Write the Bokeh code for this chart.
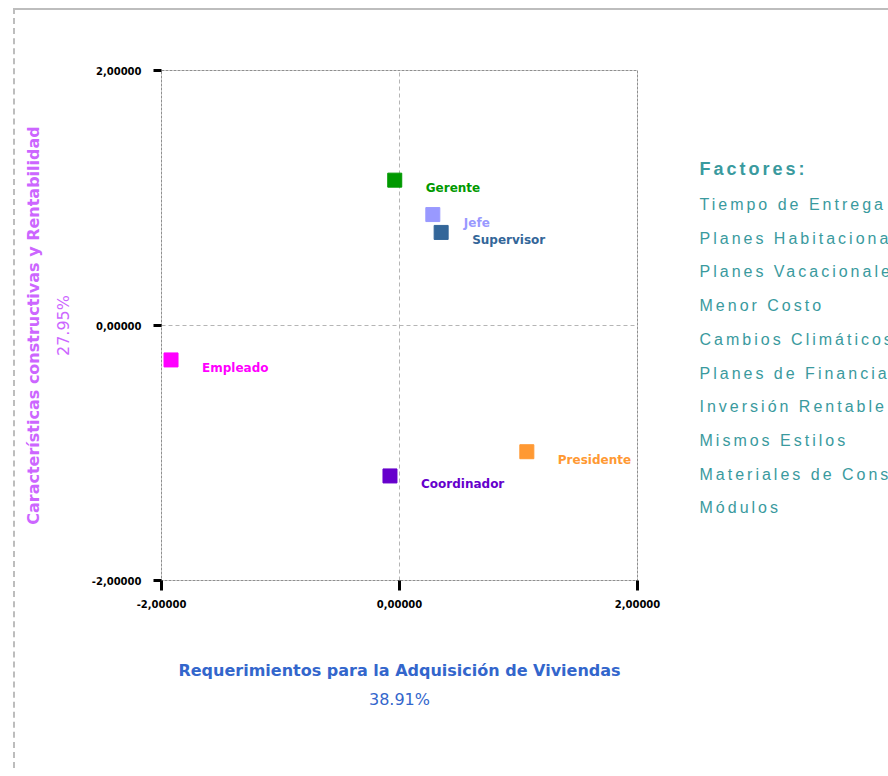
from bokeh.plotting import figure
from bokeh.layouts import row
from bokeh.models import ColumnDataSource, Range1d, FixedTicker, LinearAxis
from bokeh.core.properties import value
from bokeh.embed import file_html
from bokeh.resources import INLINE

# ---- data ----
cargos = ["Gerente", "Jefe", "Supervisor", "Empleado", "Coordinador", "Presidente"]
dim1 = [-0.04, 0.28, 0.35, -1.92, -0.08, 1.07]
dim2 = [1.14, 0.87, 0.73, -0.27, -1.18, -0.99]
colores = ["#009900", "#9999FF", "#336699", "#FF00FF", "#6600CC", "#FF9933"]
ticks = [-2, 0, 2]
tick_labels = ["-2,00000", "0,00000", "2,00000"]
factores_titulo = "Factores:"
factores = ["Tiempo de Entrega", "Planes Habitacionales", "Planes Vacacionales",
            "Menor Costo", "Cambios Climáticos", "Planes de Financiamiento",
            "Inversión Rentable", "Mismos Estilos", "Materiales de Construcción",
            "Módulos"]
titulo_x = "Requerimientos para la Adquisición de Viviendas"
pct_x = "38.91%"
titulo_y = "Características constructivas y Rentabilidad"
pct_y = "27.95%"

FONT = "DejaVu Sans"
FONT_LIST = "Liberation Sans"

H = 758
FW, FH = 476, 510
BL, BT = 146, 60
W1 = BL + FW + 40
W2 = 873 - W1
PAGE_X0, PAGE_Y0 = 15, 10

src = ColumnDataSource(dict(x=dim1, y=dim2, name=cargos, color=colores))

p = figure(width=W1, height=H, output_backend="svg", toolbar_location=None,
           x_range=Range1d(-2, 2), y_range=Range1d(-2, 2),
           min_border_left=BL, min_border_top=BT,
           min_border_right=W1 - BL - FW, min_border_bottom=H - BT - FH)

p.outline_line_color = "#8f8f8f"
p.outline_line_dash = "3 1"
p.outline_line_width = 1

for ax in (p.xaxis[0], p.yaxis[0]):
    ax.ticker = FixedTicker(ticks=ticks)
    ax.major_label_overrides = {t: l for t, l in zip(ticks, tick_labels)}
    ax.axis_line_color = None
    ax.major_tick_line_color = "black"
    ax.major_tick_line_width = 3
    ax.major_tick_in = 0
    ax.minor_tick_line_color = None
    ax.major_label_text_font = FONT
    ax.major_label_text_font_style = "bold"
    ax.major_label_text_font_size = "10px"
    ax.major_label_text_color = "black"
p.xaxis.major_tick_out = 10
p.yaxis.major_tick_out = 8
p.xaxis.major_label_standoff = 9
p.yaxis.major_label_standoff = 12

p.xaxis.axis_label = titulo_x
p.xaxis.axis_label_standoff = 50
p.xaxis.axis_label_text_font = FONT
p.xaxis.axis_label_text_font_style = "bold"
p.xaxis.axis_label_text_font_size = "16px"
p.xaxis.axis_label_text_color = "#3366CC"

p.yaxis.axis_label = pct_y
p.yaxis.axis_label_standoff = 16
p.yaxis.axis_label_text_font = FONT
p.yaxis.axis_label_text_font_style = "normal"
p.yaxis.axis_label_text_font_size = "16px"
p.yaxis.axis_label_text_color = "#CC66FF"


def extra_axis(label, bold, color, size, standoff):
    ax = LinearAxis(ticker=FixedTicker(ticks=[]), axis_label=label)
    ax.axis_line_color = None
    ax.major_tick_line_color = None
    ax.minor_tick_line_color = None
    ax.major_tick_out = 0
    ax.major_label_standoff = 0
    ax.major_label_text_font_size = "1px"
    ax.axis_label_standoff = standoff
    ax.axis_label_text_font = FONT
    ax.axis_label_text_font_style = "bold" if bold else "normal"
    ax.axis_label_text_font_size = size
    ax.axis_label_text_color = color
    return ax


p.add_layout(extra_axis(pct_x, False, "#3366CC", "16px", 7), "below")
p.add_layout(extra_axis(titulo_y, True, "#CC66FF", "16px", 8), "left")

p.grid.grid_line_color = "#b5b5b5"
p.grid.grid_line_dash = "4 3"

p.scatter("x", "y", source=src, marker="square", size=14,
          fill_color="color", line_color="color")
p.text("x", "y", text="name", source=src, text_color="color",
       text_font=value(FONT), text_font_style="bold",
       text_font_size="12px", text_baseline="middle",
       x_offset=31, y_offset=8)

# ---- side panel with the list of factors (page pixel coordinates, y down) ----
X0 = PAGE_X0 + W1
ftop = PAGE_Y0 + BT           # the row aligns this frame with the chart frame
q = figure(width=W2, height=H, output_backend="svg", toolbar_location=None,
           x_range=Range1d(X0, X0 + W2), y_range=Range1d(ftop + FH, ftop),
           x_axis_type=None, y_axis_type=None, min_border=0)
q.outline_line_color = None
q.grid.visible = False

lx = 699
q.text(x=[lx], y=[168], text=[factores_titulo], text_color="#3A9A9E",
       text_font=value(FONT_LIST), text_font_style="bold",
       text_font_size="18px", text_baseline="middle")
fsrc = ColumnDataSource(dict(x=[lx] * len(factores),
                             y=[204 + i * 33.7 for i in range(len(factores))],
                             t=factores))
q.text("x", "y", text="t", source=fsrc, text_color="#3A9A9E",
       text_font=value(FONT_LIST), text_font_size="16px", text_baseline="middle")

# left-aligned list text only: widen its letter spacing like the original
q.styles = {"letter-spacing": "3px"}

lay = row(p, q, spacing=0)
lay.styles = {"border-top": "2px solid #bdbdbd", "border-left": "2px dashed #bdbdbd",
              "margin-left": "13px", "margin-top": "8px"}

open("out.html", "w").write(file_html(lay, INLINE))
